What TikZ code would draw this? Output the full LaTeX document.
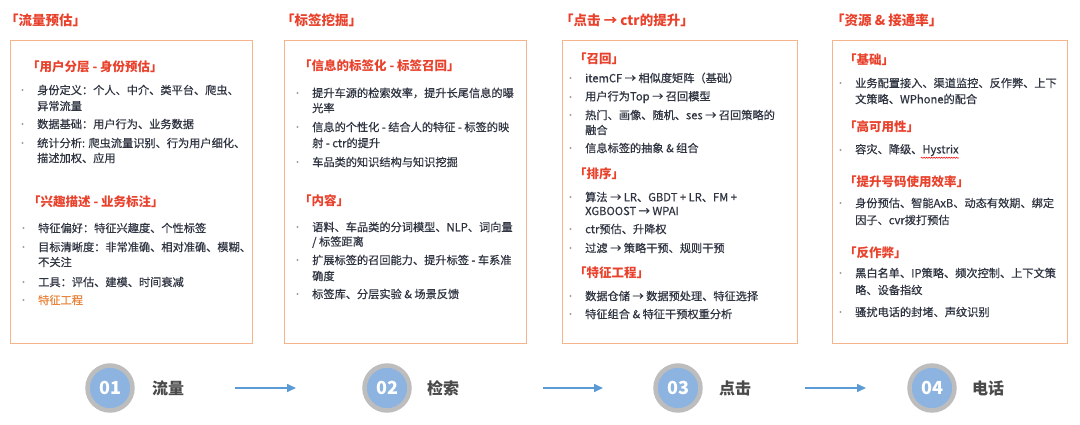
\documentclass[tikz,border=0pt]{standalone}
\usepackage{fontspec}
\setmainfont{Noto Sans CJK SC}
\newfontfamily\bodyf{Noto Sans CJK SC}[FakeBold=0.6]
\usetikzlibrary{arrows.meta,decorations.pathmorphing}
\definecolor{boxline}{HTML}{F5B48C}
\definecolor{titred}{HTML}{E8412C}
\definecolor{bodytxt}{HTML}{2F3441}
\definecolor{orangetxt}{HTML}{E8843C}
\definecolor{ringgray}{HTML}{BDBDBD}
\definecolor{innerblue}{HTML}{8DB4E0}
\definecolor{arrowblue}{HTML}{5B9BD5}
\definecolor{labgray}{HTML}{4A4A4A}
\newcommand\bl[4]{\node[dotb] (#1d) at (#2-14.5,#3) {}; \node[txt] (#1) at (#2,#3) {#4};}
\newcommand\cl[4]{\node[txt] (#1) at (#2,#3) {#4};}
\tikzset{
  panel/.style={draw=boxline, line width=0.9pt},
  ttl/.style={anchor=west, inner sep=0pt, text=titred, font=\fontsize{13.5}{14}\selectfont\bfseries},
  sub/.style={anchor=west, inner sep=0pt, text=titred, font=\fontsize{12.5}{13}\selectfont\bfseries},
  txt/.style={anchor=west, inner sep=0pt, text=bodytxt, font=\bodyf\fontsize{11.2}{11}\selectfont},
  dotb/.style={circle, fill=gray!75, inner sep=0pt, minimum size=2.3pt},
  stepc/.style={circle, fill=innerblue, draw=ringgray, line width=4.5pt, minimum size=45pt, inner sep=0pt,
    text=white, font=\fontsize{18}{18}\selectfont\bfseries},
  steplab/.style={anchor=center, inner sep=0pt, text=labgray, font=\fontsize{16}{16}\selectfont\bfseries},
  flow/.style={draw=arrowblue, line width=1.6pt, -{Triangle[length=9pt,width=8pt]}},
}
\begin{document}
\begin{tikzpicture}[x=1pt,y=-1pt]
\useasboundingbox (0,0) rectangle (1080,424);
% panels
\draw[panel] (10,40) rectangle (252,343);
\draw[panel] (284,40) rectangle (526,343);
\draw[panel] (562,40) rectangle (797,343);
\draw[panel] (832,40) rectangle (1067,343);
% titles
\node[ttl] (t1) at (5,20) {「流量预估」};
\node[ttl] (t2) at (281,20) {「标签挖掘」};
\node[ttl] (t3) at (560,20) {「点击 → ctr的提升」};
\node[ttl] (t4) at (831,20) {「资源 \& 接通率」};
% panel 1
\node[sub] (s11) at (27,67) {「用户分层 - 身份预估」};
\bl{pa}{37}{90}{身份定义：个人、中介、类平台、爬虫、}
\cl{pb}{37}{106}{异常流量}
\bl{pc}{37}{124}{数据基础：用户行为、业务数据}
\bl{pd}{37}{143}{统计分析: 爬虫流量识别、行为用户细化、}
\cl{pe}{37}{158}{描述加权、应用}
\node[sub] (s12) at (28,202) {「兴趣描述 - 业务标注」};
\bl{pf}{38}{228}{特征偏好：特征兴趣度、个性标签}
\bl{pg}{38}{247}{目标清晰度：非常准确、相对准确、模糊、}
\cl{ph}{38}{262}{不关注}
\bl{pi}{38}{282}{工具：评估、建模、时间衰减}
\bl{pj}{38}{300}{\textcolor{orangetxt}{特征工程}}
% panel 2
\node[sub] (s21) at (299,66) {「信息的标签化 - 标签召回」};
\bl{qa}{312}{93}{提升车源的检索效率，提升长尾信息的曝}
\cl{qb}{312}{108}{光率}
\bl{qc}{312}{127}{信息的个性化 - 结合人的特征 - 标签的映}
\cl{qd}{312}{143}{射 - ctr的提升}
\bl{qe}{312}{162}{车品类的知识结构与知识挖掘}
\node[sub] (s22) at (299,201) {「内容」};
\bl{qf}{312}{227}{语料、车品类的分词模型、NLP、词向量}
\cl{qg}{312}{242}{/ 标签距离}
\bl{qh}{312}{260}{扩展标签的召回能力、提升标签 - 车系准}
\cl{qi}{312}{276}{确度}
\bl{qj}{312}{294}{标签库、分层实验 \& 场景反馈}
% panel 3
\node[sub] (s31) at (574,59) {「召回」};
\bl{ra}{585}{78}{itemCF → 相似度矩阵（基础）}
\bl{rb}{585}{97}{用户行为Top → 召回模型}
\bl{rc}{585}{115}{热门、画像、随机、ses → 召回策略的}
\cl{rd}{585}{130}{融合}
\bl{re}{585}{148}{信息标签的抽象 \& 组合}
\node[sub] (s32) at (574,174) {「排序」};
\bl{rf}{585}{197}{算法 → LR、GBDT + LR、FM +}
\cl{rg}{585}{211}{XGBOOST → WPAI}
\bl{rh}{585}{229}{ctr预估、升降权}
\bl{ri}{585}{248}{过滤 → 策略干预、规则干预}
\node[sub] (s33) at (574,273) {「特征工程」};
\bl{rj}{585}{296}{数据仓储 → 数据预处理、特征选择}
\bl{rk}{585}{314}{特征组合 \& 特征干预权重分析}
% panel 4
\node[sub] (s41) at (844,60) {「基础」};
\bl{ua}{855}{83}{业务配置接入、渠道监控、反作弊、上下}
\cl{ub}{855}{99}{文策略、WPhone的配合}
\node[sub] (s42) at (844,127) {「高可用性」};
\bl{uc}{855}{150}{容灾、降级、Hystrix}
\node[sub] (s43) at (844,182) {「提升号码使用效率」};
\bl{ud}{855}{203}{身份预估、智能AxB、动态有效期、绑定}
\cl{ue}{855}{220}{因子、cvr拨打预估}
\node[sub] (s44) at (844,253) {「反作弊」};
\bl{uf}{855}{273}{黑白名单、IP策略、频次控制、上下文策}
\cl{ug}{855}{290}{略、设备指纹}
\bl{uh}{855}{312}{骚扰电话的封堵、声纹识别}
\draw[red, line width=0.5pt, decorate, decoration={snake, amplitude=0.6pt, segment length=2.5pt}]
  ([xshift=-38pt, yshift=-1.5pt]uc.south east) -- ([yshift=-1.5pt]uc.south east);
% steps
\node[stepc] (c1) at (110,388) {01};
\node[steplab] (l1) at (168,388) {流量};
\node[stepc] (c2) at (387,388) {02};
\node[steplab] (l2) at (443,388) {检索};
\node[stepc] (c3) at (678,388) {03};
\node[steplab] (l3) at (735,388) {点击};
\node[stepc] (c4) at (932,388) {04};
\node[steplab] (l4) at (988,388) {电话};
\coordinate (a1s) at (235,388); \coordinate (a1e) at (296,388);
\coordinate (a2s) at (543,388); \coordinate (a2e) at (603,388);
\coordinate (a3s) at (805,388); \coordinate (a3e) at (866,388);
\draw[flow] (a1s) -- (a1e);
\draw[flow] (a2s) -- (a2e);
\draw[flow] (a3s) -- (a3e);
\end{tikzpicture}
\end{document}
